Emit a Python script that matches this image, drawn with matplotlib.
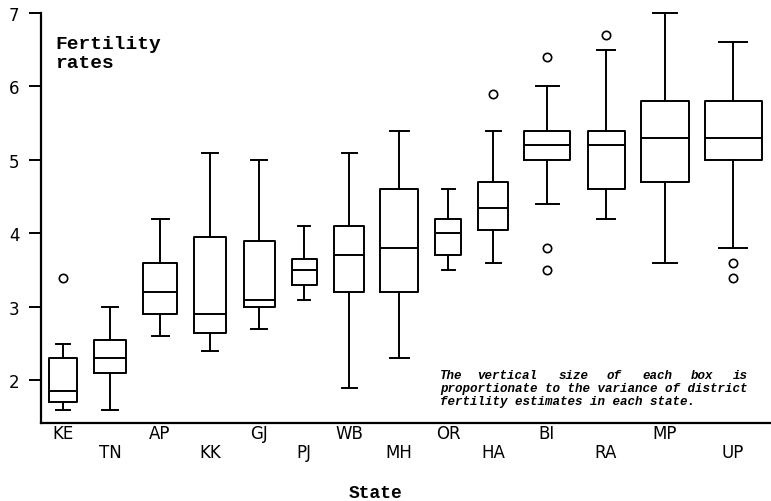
import matplotlib
matplotlib.use("Agg")
import matplotlib.pyplot as plt

# ---- data ----
states = ["KE", "TN", "AP", "KK", "GJ", "PJ", "WB", "MH", "OR", "HA", "BI", "RA", "MP", "UP"]
whis_lo = [1.6, 1.6, 2.6, 2.4, 2.7, 3.1, 1.9, 2.3, 3.5, 3.6, 4.4, 4.2, 3.6, 3.8]
q1 = [1.7, 2.1, 2.9, 2.65, 3.0, 3.3, 3.2, 3.2, 3.7, 4.05, 5.0, 4.6, 4.7, 5.0]
median = [1.85, 2.3, 3.2, 2.9, 3.1, 3.5, 3.7, 3.8, 4.0, 4.35, 5.2, 5.2, 5.3, 5.3]
q3 = [2.3, 2.55, 3.6, 3.95, 3.9, 3.65, 4.1, 4.6, 4.2, 4.7, 5.4, 5.4, 5.8, 5.8]
whis_hi = [2.5, 3.0, 4.2, 5.1, 5.0, 4.1, 5.1, 5.4, 4.6, 5.4, 6.0, 6.5, 7.0, 6.6]
outliers = [[3.4], [], [], [], [], [], [], [], [], [5.9], [6.4, 3.8, 3.5], [6.7], [], [3.6, 3.4]]
yticks = [2, 3, 4, 5, 6, 7]

# ---- layout (not data) ----
positions = [22, 69, 119, 169, 218, 263, 308, 358, 407, 452, 506, 565, 624, 692]
widths = [28, 32, 34, 32, 31, 25, 30, 38, 26, 30, 46, 37, 48, 57]

W, H = 771, 502
fig = plt.figure(figsize=(W / 100, H / 100), dpi=100)
ax = fig.add_axes([41 / W, 1 - 424 / H, 730 / W, 410 / H])

stats = []
for i, s in enumerate(states):
    stats.append(dict(label=s, med=median[i], q1=q1[i], q3=q3[i],
                      whislo=whis_lo[i], whishi=whis_hi[i], fliers=outliers[i]))

lw = 1.4
arts = ax.bxp(stats, positions=positions, widths=widths, showfliers=True,
              boxprops=dict(color="black", linewidth=lw),
              medianprops=dict(color="black", linewidth=lw),
              whiskerprops=dict(color="black", linewidth=lw),
              capprops=dict(color="black", linewidth=lw),
              flierprops=dict(marker="o", markerfacecolor="none", markeredgecolor="black",
                              markersize=6, markeredgewidth=1.2))
for k in arts:
    for a in arts[k]:
        a.set_clip_on(False)

ax.set_xlim(0, 730)
ax.set_ylim(1.42, 7.0)
ax.set_yticks(yticks)
ax.set_yticklabels([str(t) for t in yticks], fontsize=12, family="DejaVu Sans")
ax.tick_params(axis="y", direction="out", length=8.5, width=1.4, pad=7)

ax.set_xticks(positions)
ax.set_xticklabels(states, fontsize=12, family="DejaVu Sans")
ax.tick_params(axis="x", length=0)
for i, t in enumerate(ax.xaxis.get_major_ticks()):
    t.set_pad(1.0 if i % 2 == 0 else 14.5)

for side in ["top", "right"]:
    ax.spines[side].set_visible(False)
for side in ["left", "bottom"]:
    ax.spines[side].set_linewidth(1.6)

title_kw = dict(family="Liberation Mono", fontweight="bold", fontsize=14,
                va="baseline", ha="left")
fig.text(55 / W, 1 - 49 / H, "Fertility", **title_kw)
fig.text(55 / W, 1 - 68 / H, "rates", **title_kw)
fig.text(376 / W, 1 - 498 / H, "State", family="Liberation Mono", fontweight="bold",
         fontsize=13, ha="center", va="baseline")

note_kw = dict(family="Liberation Mono", fontweight="bold", style="italic", fontsize=9,
               va="center", ha="left")
words = ["The", "vertical", "size", "of", "each", "box", "is"]
word_x = [440, 477, 559, 607, 642, 691, 733]
for w, x in zip(words, word_x):
    fig.text(x / W, 1 - 376 / H, w, **note_kw)
fig.text(440 / W, 1 - 389 / H, "proportionate to the variance of district", **note_kw)
fig.text(440 / W, 1 - 402 / H, "fertility estimates in each state.", **note_kw)

fig.savefig("out.png", dpi=100)
